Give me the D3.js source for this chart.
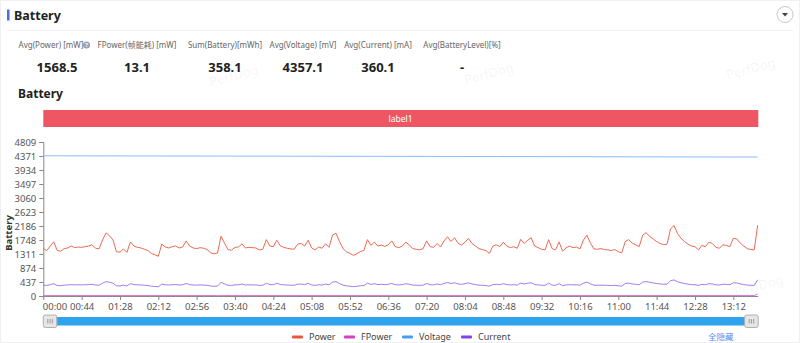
<!DOCTYPE html>
<html><head><meta charset="utf-8">
<script src="https://cdn.jsdelivr.net/npm/d3@7/dist/d3.min.js"></script>
<style>
body{margin:0;background:#fff;}
svg{display:block;font-family:"Noto Sans","Noto Sans CJK SC",sans-serif;}
</style>
</head><body>
<svg id="c" width="800" height="343"></svg>
<script>
// ---------- data ----------
const sampleStep = 4; // seconds between samples
const power = [
1480,1420,1560,1690,1420,1400,1480,1500,1560,1510,
1530,1520,1540,1560,1600,1490,1470,1750,1970,1880,
1750,1380,1370,1470,1360,1690,1560,1520,1500,1460,
1420,1330,1290,1240,1620,1530,1500,1540,1560,1500,
1530,1720,1560,1500,1480,1510,1490,1450,1350,1320,
1340,1870,1650,1450,1430,1520,1530,1630,1500,1520,
1510,1500,1440,1460,1760,1560,1540,1740,1570,1520,
1490,1470,1460,1620,1640,1560,1740,1500,1440,1530,
1490,1630,1520,1900,1960,1700,1480,1380,1330,1270,
1320,1390,1420,1760,1580,1680,1560,1590,1550,1600,
1720,1540,1510,1560,1680,1600,1480,1460,1440,1480,
1720,1540,1520,1640,1530,1720,1850,1700,1820,1650,
1590,1680,1800,1640,1560,1480,1450,1420,1330,1560,
1600,1540,1680,1560,1510,1540,1490,1770,1640,1740,
1820,1560,1510,1460,1440,1760,1480,1440,1690,1400,
1500,1560,1510,1530,1470,1750,1900,1650,1470,1460,
1480,1450,1440,1420,1450,1380,1350,1700,1760,1650,
1600,1540,1900,1980,1860,1780,1700,1640,1600,1620,
2100,2200,1950,1800,1700,1620,1560,1540,1440,1580,
1540,1680,1640,1520,1490,1600,1580,1540,1800,1780,
1650,1560,1480,1450,1440,2210
];
const current = [
340,328,356,384,328,322,340,344,356,346,
350,348,352,356,366,342,338,398,448,430,
400,318,316,338,314,386,356,348,344,336,
326,306,298,288,370,350,344,352,356,344,
350,392,356,344,340,346,342,334,312,304,
308,426,378,334,330,348,350,372,344,348,
346,344,332,336,402,356,352,398,360,348,
342,338,336,370,374,356,398,344,332,350,
342,372,348,434,448,390,340,318,306,292,
304,320,326,402,362,384,356,364,356,366,
392,352,346,356,384,366,340,336,332,340,
392,352,348,374,350,392,422,390,416,378,
364,384,412,376,356,340,334,326,306,356,
366,352,384,356,346,352,342,404,376,398,
416,356,346,336,332,402,340,332,386,322,
344,356,346,350,338,400,434,378,338,336,
340,334,332,326,334,318,310,390,402,378,
366,352,434,452,426,408,390,376,366,370,
480,502,446,412,390,370,356,352,332,362,
352,384,376,348,342,366,362,352,412,408,
378,356,340,334,332,506
];
const voltageSeconds = [0,60,120,200,280,360,440,520,600,680,760,820];
const voltage = [4378,4376,4373,4370,4366,4363,4359,4355,4351,4346,4342,4340];
const fpowerSeconds = [0,200,400,600,816,820];
const fpower = [13,13,13,13,13,60];

const yTickLabels = ["0","437","874","1311","1748","2186","2623","3060","3497","3934","4371","4809"];
const xTickLabels = ["00:00","00:44","01:28","02:12","02:56","03:40","04:24","05:08","05:52","06:36",
  "07:20","08:04","08:48","09:32","10:16","11:00","11:44","12:28","13:12"];
const statLabels = ["Avg(Power) [mW]","FPower(帧能耗) [mW]","Sum(Battery)[mWh]","Avg(Voltage) [mV]","Avg(Current) [mA]","Avg(BatteryLevel)[%]"];
const statValues = ["1568.5","13.1","358.1","4357.1","360.1","-"];
const seriesNames = ["Power","FPower","Voltage","Current"];
const seriesColors = ["#e9573f","#d63fc4","#4a9af5","#7d45e8"];
const lineColors = ["#ec6a52","#e070d2","#8cbcf8","#a07ef0"];

// ---------- helpers ----------
const svg = d3.select("#c");
const toSec = s => { const [m, ss] = s.split(":").map(Number); return m * 60 + ss; };
const totalSec = (power.length - 1) * sampleStep;

const x = d3.scaleLinear().domain([0, totalSec]).range([43.3, 757.7]);
const yMax = +yTickLabels[yTickLabels.length - 1];
const y = d3.scaleLinear().domain([0, yMax]).range([296, 142]);

// ---------- header ----------
svg.append("rect").attr("x",0.5).attr("y",0.5).attr("width",799).attr("height",342)
  .attr("fill","#fff").attr("stroke","#f0f0f0");
svg.append("rect").attr("x",7).attr("y",9.5).attr("width",2.5).attr("height",11).attr("fill","#3f6ef5");
svg.append("text").attr("x",14).attr("y",19.5).attr("font-size",12.5).attr("font-weight","bold")
  .attr("fill","#222").text("Battery");
svg.append("line").attr("x1",7).attr("x2",793).attr("y1",30.5).attr("y2",30.5).attr("stroke","#eeeeee");
const btn = svg.append("g").attr("transform","translate(785,14.5)");
btn.append("circle").attr("r",8).attr("fill","#fff").attr("stroke","#c8c8c8");
btn.append("path").attr("d","M-3,-1.5 L3,-1.5 L0,2 Z").attr("fill","#444");

// watermarks
const wm = [[235,80],[490,78],[752,73],[225,304],[760,290]];
svg.append("g").selectAll("text").data(wm).join("text")
  .attr("transform",d=>`translate(${d[0]},${d[1]}) rotate(-15)`)
  .attr("text-anchor","middle").attr("font-size",13).attr("fill","#000").attr("fill-opacity",0.06)
  .text("PerfDog");

// stats
const statCenters = [54,137,225,303,378,462];
const stats = svg.append("g");
stats.selectAll("text.l").data(statLabels).join("text").attr("class","l")
  .attr("x",(d,i)=>statCenters[i] - (i===0?3:0)).attr("y",48).attr("text-anchor","middle")
  .attr("font-size",8).attr("fill","#666").text(d=>d);
stats.append("circle").attr("cx",86.5).attr("cy",45).attr("r",3.6).attr("fill","#9aa3b5");
stats.append("text").attr("x",86.5).attr("y",47.3).attr("text-anchor","middle").attr("font-size",5.5)
  .attr("fill","#fff").attr("font-weight","bold").text("?");
stats.selectAll("text.v").data(statValues).join("text").attr("class","v")
  .attr("x",(d,i)=>statCenters[i] + (i===0?3:0)).attr("y",71.5).attr("text-anchor","middle")
  .attr("font-size",13).attr("font-weight","bold").attr("fill","#222").text(d=>d);

svg.append("text").attr("x",18).attr("y",98).attr("font-size",12).attr("font-weight","bold")
  .attr("fill","#222").text("Battery");

// label bar
svg.append("rect").attr("x",x(0)).attr("y",110).attr("width",x(totalSec)-x(0)+0.6).attr("height",17)
  .attr("fill","#ee5664");
svg.append("text").attr("x",(x(0)+x(totalSec))/2).attr("y",121.5).attr("text-anchor","middle")
  .attr("font-size",8.5).attr("fill","#fff").text("label1");

// ---------- axes ----------
const yAxisG = svg.append("g").attr("transform",`translate(${x(0)},0)`)
  .call(d3.axisLeft(y).tickValues(yTickLabels.map(Number)).tickFormat((d,i)=>yTickLabels[i]).tickSize(4).tickPadding(3));
yAxisG.select(".domain").attr("stroke","#888");
yAxisG.selectAll(".tick line").attr("stroke","#888");
yAxisG.selectAll(".tick text").attr("font-size",9.5).attr("fill","#555").attr("font-family",'"Noto Sans",sans-serif');

const xAxisG = svg.append("g").attr("transform",`translate(0,${y(0)})`)
  .call(d3.axisBottom(x).tickValues(xTickLabels.map(toSec)).tickFormat((d,i)=>xTickLabels[i]).tickSize(4).tickPadding(3).tickSizeOuter(0));
xAxisG.select(".domain").attr("stroke","#888");
xAxisG.selectAll(".tick line").attr("stroke","#888");
xAxisG.selectAll(".tick text").attr("font-size",9.5).attr("fill","#555").attr("font-family",'"Noto Sans",sans-serif');
xAxisG.selectAll(".tick text").filter((d,i)=>i===0).attr("text-anchor","start").attr("dx",-1);

svg.append("text").attr("transform","translate(12,233) rotate(-90)").attr("text-anchor","middle")
  .attr("font-size",9.5).attr("font-weight","bold").attr("fill","#333").text("Battery");

// ---------- lines ----------
const line = d3.line().x(d=>x(d[0])).y(d=>y(d[1]));
const powerPts = power.map((v,i)=>[i*sampleStep, v]);
const currentPts = current.map((v,i)=>[i*sampleStep, v]);
const voltagePts = voltageSeconds.map((s,i)=>[s, voltage[i]]);
const fpowerPts = fpowerSeconds.map((s,i)=>[s, fpower[i]]);
const plot = svg.append("g").attr("fill","none").attr("stroke-width",1);
plot.append("path").attr("d",line(fpowerPts)).attr("stroke",lineColors[1]);
plot.append("path").attr("d",line(voltagePts)).attr("stroke",lineColors[2]);
plot.append("path").attr("d",line(currentPts)).attr("stroke",lineColors[3]);
plot.append("path").attr("d",line(powerPts)).attr("stroke",lineColors[0]);

// ---------- slider ----------
const slider = svg.append("g");
slider.append("rect").attr("x",x(0)+4).attr("y",317).attr("width",x(totalSec)-x(0)-8).attr("height",8.5)
  .attr("fill","#2fa3ee");
[x(0), x(totalSec)-13].forEach(hx=>{
  const h = slider.append("g").attr("transform",`translate(${hx},315)`);
  h.append("rect").attr("width",13.5).attr("height",12.5).attr("rx",2).attr("fill","#e6e6e6").attr("stroke","#b0b0b0");
  [4.5,6.75,9].forEach(lx=>h.append("line").attr("x1",lx).attr("x2",lx).attr("y1",4).attr("y2",8.5).attr("stroke","#888").attr("stroke-width",0.8));
});

// ---------- legend ----------
const legendX = [292,344,402,461];
const lg = svg.append("g").selectAll("g").data(seriesNames).join("g")
  .attr("transform",(d,i)=>`translate(${legendX[i]},337)`);
lg.append("rect").attr("x",0).attr("y",-1.5).attr("width",11).attr("height",3).attr("rx",1).attr("fill",(d,i)=>seriesColors[i]);
lg.append("text").attr("x",17).attr("y",3).attr("font-size",9).attr("fill","#444").text(d=>d);
svg.append("text").attr("x",708).attr("y",340).attr("font-size",8.5).attr("fill","#5a8cf0").text("全隐藏");
</script>
</body></html>
